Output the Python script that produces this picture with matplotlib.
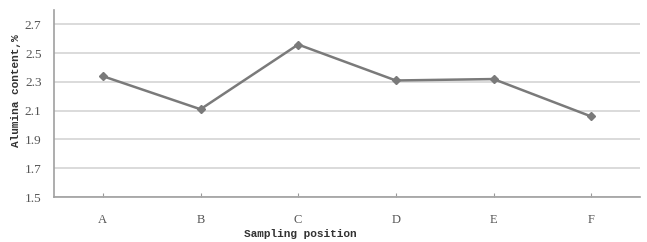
import matplotlib
matplotlib.use("Agg")
import matplotlib.pyplot as plt

positions = ["A", "B", "C", "D", "E", "F"]
alumina = [2.34, 2.11, 2.56, 2.31, 2.32, 2.06]
y_ticks = [1.5, 1.7, 1.9, 2.1, 2.3, 2.5, 2.7]

fig = plt.figure(figsize=(6.47, 2.42), dpi=100)
ax = fig.add_axes([54 / 647, 1 - 197 / 242, (640 - 54) / 647, (197 - 10) / 242])

x = list(range(len(positions)))
ax.plot(x, alumina, color="#7a7a7a", lw=1.8, marker="D", ms=4,
        markerfacecolor="#7a7a7a", markeredgecolor="#7a7a7a", zorder=3)

ax.set_xlim(-0.5, len(positions) - 0.5)
ax.set_ylim(1.5, 2.8)
ax.set_yticks(y_ticks)
ax.set_yticklabels([f"{v:.1f}" for v in y_ticks], family="Liberation Serif",
                   fontsize=9.5, color="#555555")
ax.set_xticks(x)
ax.set_xticklabels(positions, family="Liberation Serif", fontsize=9, color="#555555")
ax.tick_params(axis="x", direction="in", length=3, color="#999999", pad=12)
ax.tick_params(axis="y", length=0, pad=9)

ax.grid(axis="y", color="#d4d4d4", lw=1.2)
ax.set_axisbelow(True)
for s in ["top", "right"]:
    ax.spines[s].set_visible(False)
for s in ["left", "bottom"]:
    ax.spines[s].set_color("#a0a0a0")
    ax.spines[s].set_linewidth(1.2)

ax.set_xlabel("Sampling position", family="Liberation Mono", fontsize=8,
              fontweight="bold", color="#333333")
ax.xaxis.set_label_coords((300 - 54) / (640 - 54), -0.17)
ax.set_ylabel("Alumina content,%", family="Liberation Mono", fontsize=8,
              fontweight="bold", color="#333333")
ax.yaxis.set_label_coords(-(54 - 21) / (640 - 54), 0.57)

fig.savefig("out.png", dpi=100)
